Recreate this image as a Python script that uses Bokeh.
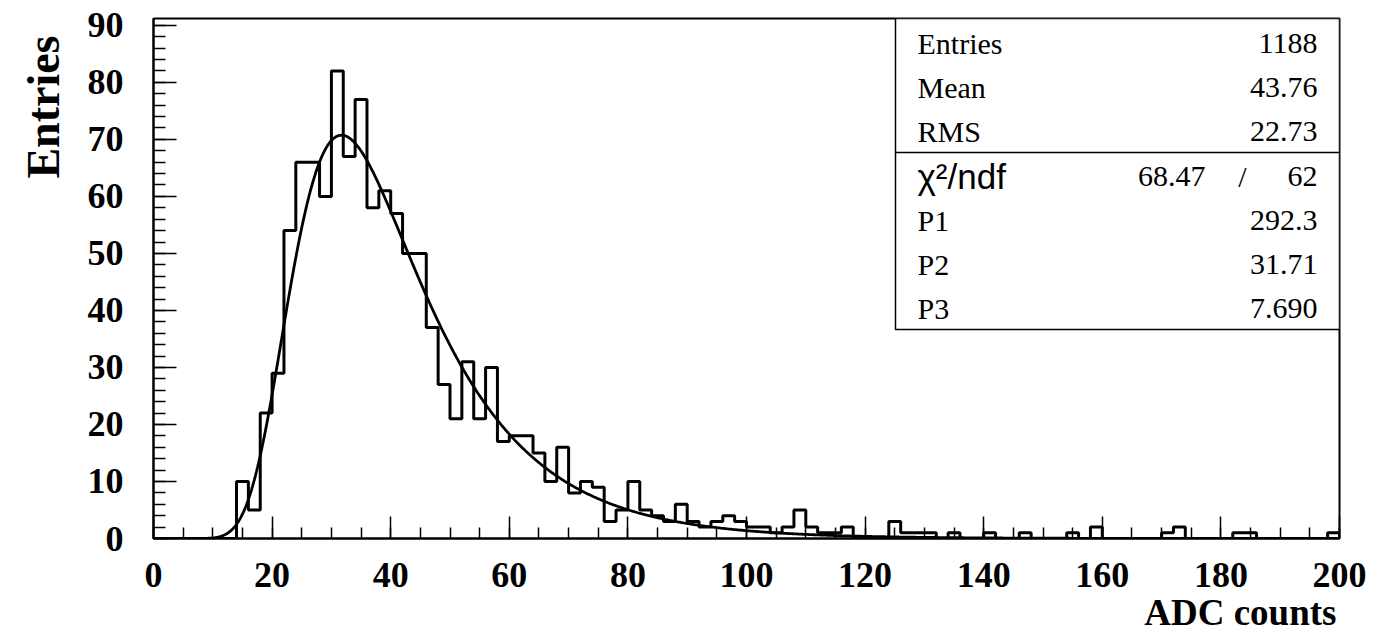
import numpy as np
from bokeh.plotting import figure
from bokeh.models import Range1d, SingleIntervalTicker, BoxAnnotation, Label, Title
from bokeh.embed import file_html
from bokeh.resources import INLINE

# ---------------- data ----------------
x_low, x_high, n_bins = 0, 200, 100
counts = [0, 0, 0, 0, 0, 0, 0, 10, 5, 22,
          29, 54, 66, 66, 60, 82, 67, 77, 58, 61,
          57, 50, 50, 37, 27, 21, 31, 21, 30, 17,
          18, 18, 15, 10, 16, 8, 10, 9, 3, 5,
          10, 5, 4, 3, 6, 3, 2, 3, 4, 3,
          2, 2, 1, 2, 5, 2, 1, 1, 2, 0,
          0, 0, 3, 1, 1, 1, 0, 1, 0, 0,
          1, 0, 0, 1, 0, 0, 0, 1, 0, 2,
          0, 0, 0, 0, 0, 1, 2, 0, 0, 0,
          0, 1, 1, 0, 0, 0, 0, 0, 0, 1]

# fit parameters as shown in the stats box
P1, P2, P3 = 292.3, 31.71, 7.690

stat_names = ["Entries", "Mean", "RMS"]
stat_values = ["1188", "43.76", "22.73"]
fit_names = ["P1", "P2", "P3"]
fit_values = ["292.3", "31.71", "7.690"]
chi2_label, chi2_value, ndf_value = "χ²/ndf", "68.47", "62"

x_title = "ADC counts"
y_title = "Entries"

# ---------------- layout ----------------
FL, FT, FW, FH = 153, 18, 1186, 520
FR, FB = 40, 631 - 18 - 520
Y_MAX = 91.2

def px_x(px):  # picture x -> data x
    return x_low + (px - FL) / FW * (x_high - x_low)

def px_y(py):  # picture y -> data y
    return (FT + FH - py) / FH * Y_MAX

p = figure(frame_width=FW, frame_height=FH,
           min_border_left=FL, min_border_top=FT,
           min_border_right=FR, min_border_bottom=FB,
           x_range=Range1d(x_low, x_high), y_range=Range1d(0, Y_MAX),
           output_backend="svg", toolbar_location=None)
p.background_fill_color = "white"
p.border_fill_color = "white"
p.outline_line_color = "black"
p.outline_line_width = 2
p.xgrid.visible = False
p.ygrid.visible = False

p.xaxis.ticker = SingleIntervalTicker(interval=20, num_minor_ticks=4)
p.yaxis.ticker = SingleIntervalTicker(interval=10, num_minor_ticks=5)
for ax in (p.xaxis[0], p.yaxis[0]):
    ax.axis_line_color = "black"
    ax.axis_line_width = 2
    ax.major_tick_out = 0
    ax.minor_tick_out = 0
    ax.major_tick_line_width = 1.5
    ax.minor_tick_line_width = 1.5
    ax.major_label_text_font = "Liberation Serif"
    ax.major_label_text_font_style = "bold"
    ax.major_label_text_font_size = "36px"
    ax.major_label_text_color = "black"
p.xaxis.major_tick_in = 22
p.xaxis.minor_tick_in = 11
p.yaxis.major_tick_in = 23
p.yaxis.minor_tick_in = 12
p.xaxis.major_label_standoff = 24
p.yaxis.major_label_standoff = 30

# ---------------- axis titles ----------------
p.add_layout(Title(text=x_title, align="right", text_font="Liberation Serif",
                   text_font_style="bold", text_font_size="37px", text_color="black",
                   standoff=4, offset=3, vertical_align="top"), "below")
p.add_layout(Title(text=y_title, align="right", text_font="Liberation Serif",
                   text_font_style="bold", text_font_size="46px", text_color="black",
                   standoff=28, offset=17, vertical_align="top"), "left")

# ---------------- histogram ----------------
edges = np.linspace(x_low, x_high, n_bins + 1)
step_y = list(counts) + [counts[-1]]
p.step(x=edges, y=step_y, mode="after", line_color="black", line_width=3)
p.line(x=[edges[0], edges[0]], y=[0, counts[0]], line_color="black", line_width=3)
p.line(x=[edges[-1], edges[-1]], y=[0, counts[-1]], line_color="black", line_width=3)

# ---------------- fit curve ----------------
xf = np.linspace(x_low, x_high, 1200)
lam = (xf - P2) / P3
yf = P1 / np.sqrt(2 * np.pi) * np.exp(-0.5 * (lam + np.exp(-lam)))
p.line(x=xf, y=yf, line_color="black", line_width=2.8)

# ---------------- stats box ----------------
box_left, box_bottom, box_div = px_x(895), px_y(329), px_y(152)
p.add_layout(BoxAnnotation(left=box_left, right=x_high, top=Y_MAX, bottom=box_bottom,
                           fill_color="white", fill_alpha=1.0, line_color="black",
                           line_alpha=1.0, line_width=1.5))
p.add_layout(BoxAnnotation(left=box_left, right=x_high, top=box_div, bottom=box_div,
                           fill_alpha=0.0, line_color="black", line_alpha=1.0, line_width=1.5))

row_y = [43 + 44.2 * k for k in range(7)]
FS = "30px"

def add_text(x, y, txt, align, font="Liberation Serif", size=FS):
    p.add_layout(Label(x=x, y=y, text=txt, text_font=font, text_font_size=size,
                       text_align=align, text_baseline="middle", text_color="black"))

left_rows = [0, 1, 2, 4, 5, 6]
for k, name in zip(left_rows, stat_names + fit_names):
    add_text(px_x(917), px_y(row_y[k]), name, "left")
for k, val in zip(left_rows, stat_values + fit_values):
    add_text(px_x(1317), px_y(row_y[k]), val, "right")
add_text(px_x(917), px_y(row_y[3]), chi2_label, "left", font="Liberation Sans", size="35px")
add_text(px_x(1205), px_y(row_y[3]), chi2_value, "right")
add_text(px_x(1242), px_y(row_y[3]), "/", "center")
add_text(px_x(1317), px_y(row_y[3]), ndf_value, "right")

open("out.html", "w").write(file_html(p, INLINE))
